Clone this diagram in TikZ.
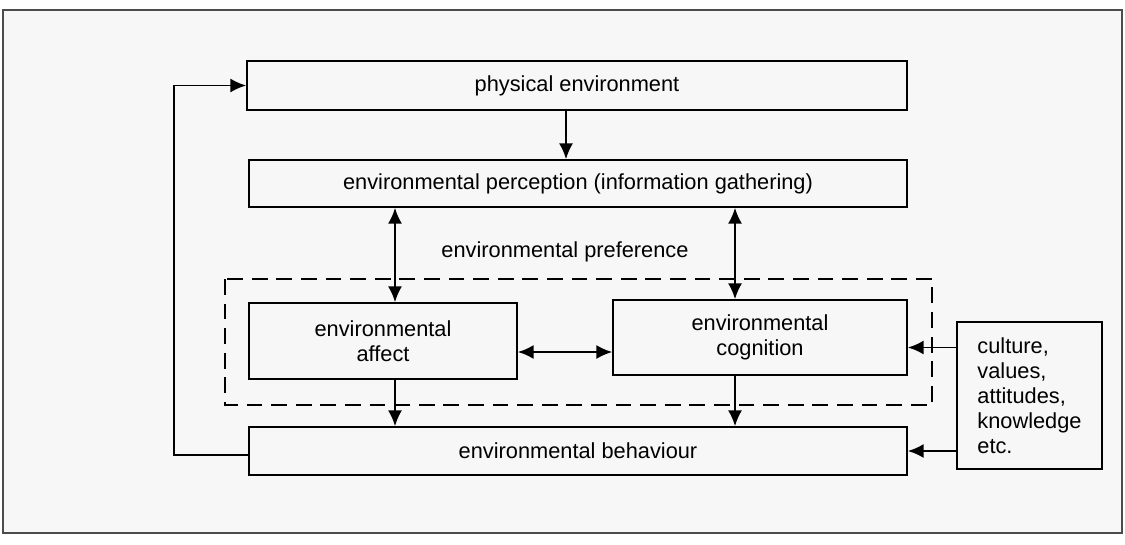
\documentclass[tikz,border=0pt]{standalone}
\usepackage{fontspec}
\setmainfont{Liberation Sans}
\usepackage{tikz}
\usetikzlibrary{arrows.meta,positioning,calc}

\begin{document}
\begin{tikzpicture}[x=0.02cm, y=-0.02cm, >={Latex[length=9pt,width=8pt]}, line width=1pt]
\tikzset{
box/.style      = {draw, shape=rectangle, inner sep=0pt, font=\fontsize{12.4}{14.2}\selectfont, align=center},
note/.style     = {shape=rectangle, inner sep=0pt, font=\fontsize{12.4}{14.2}\selectfont},
group/.style    = {draw, dash pattern=on 9pt off 5pt},
}
    % Frame
    \useasboundingbox (0, 0) rectangle (1125, 544);
    \draw [line width=0.6pt, draw=black!70, fill=black!3] (3, 10) rectangle (1122, 533);

    % Main nodes
    \node [box, minimum width=660*0.02cm, minimum height=49*0.02cm] (physical)   at (577, 85.5)  {physical environment};
    \node [box, minimum width=658*0.02cm, minimum height=47*0.02cm] (perception) at (578, 183.5) {environmental perception (information gathering)};
    \node [note]                                                    (preference) at (565, 252)   {environmental preference};
    \node [box, minimum width=268*0.02cm, minimum height=76*0.02cm] (affect)     at (383, 341)   {environmental\\affect};
    \node [box, minimum width=294*0.02cm, minimum height=75*0.02cm] (cognition)  at (760, 337.5) {environmental\\cognition};
    \node [box, minimum width=658*0.02cm, minimum height=48*0.02cm] (behaviour)  at (578, 451)   {environmental behaviour};
    \node [box, minimum width=145*0.02cm, minimum height=147*0.02cm, align=left] (culture) at (1029.5, 395.5)
        {culture,\\values,\\attitudes,\\knowledge\\etc.};

    % Preference group
    \draw [group] (225, 279) rectangle (932, 405);

    % Edges
    \draw [->]  ([xshift=-0.22cm]physical.south) -- ([xshift=-0.22cm]physical.south |- perception.north);
    \draw [<->] ([xshift=0.24cm]affect.north |- perception.south) -- ([xshift=0.24cm]affect.north);
    \draw [<->] ([xshift=-0.5cm]cognition.north |- perception.south) -- ([xshift=-0.5cm]cognition.north);
    \draw [<->] ([yshift=-0.22cm]affect.east) -- ([yshift=-0.22cm]affect.east -| cognition.west);
    \draw [->]  ([xshift=0.24cm]affect.south) -- ([xshift=0.24cm]affect.south |- behaviour.north);
    \draw [->]  ([xshift=-0.5cm]cognition.south) -- ([xshift=-0.5cm]cognition.south |- behaviour.north);
    \draw [->]  ([yshift=-0.2cm]culture.west |- cognition.east) -- ([yshift=-0.2cm]cognition.east);
    \draw [->]  (culture.west |- behaviour.east) -- (behaviour.east);

    % Feedback edge
    \draw [->]  ([yshift=-0.08cm]behaviour.west) -- ++(-74, 0) |- (physical.west);
\end{tikzpicture}
\end{document}
